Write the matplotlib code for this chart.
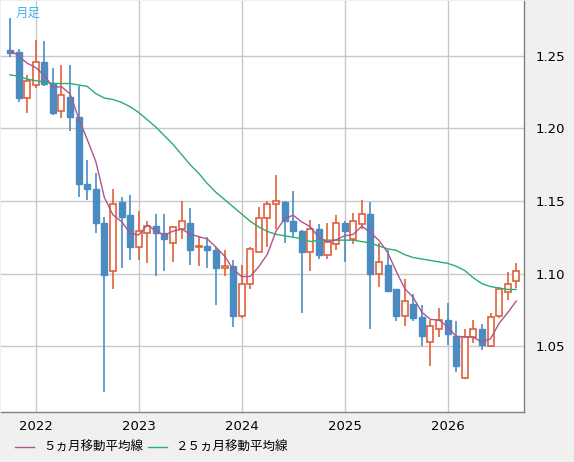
import matplotlib
matplotlib.use("Agg")
import matplotlib.pyplot as plt
from matplotlib.patches import Rectangle
import numpy as np

opens  = [1.254,1.253,1.221,1.230,1.246,1.231,1.212,1.222,1.208,1.162,1.158,1.135,1.102,1.149,1.140,1.118,1.128,1.133,1.128,1.121,
          1.131,1.135,1.118,1.119,1.116,1.104,1.105,1.071,1.093,1.115,1.138,1.148,1.149,1.136,1.129,1.115,1.131,1.113,1.120,1.135,
          1.124,1.134,1.141,1.100,1.106,1.089,1.071,1.079,1.070,1.053,1.062,1.068,1.057,1.028,1.056,1.062,1.050,1.071,1.087,1.095]
highs  = [1.276,1.255,1.237,1.261,1.260,1.242,1.244,1.244,1.229,1.178,1.169,1.139,1.158,1.153,1.154,1.143,1.136,1.141,1.141,1.133,
          1.150,1.145,1.125,1.125,1.118,1.116,1.109,1.106,1.118,1.146,1.150,1.168,1.150,1.157,1.130,1.137,1.134,1.135,1.140,1.136,
          1.142,1.151,1.149,1.121,1.116,1.089,1.096,1.086,1.078,1.068,1.076,1.080,1.067,1.062,1.068,1.065,1.073,1.091,1.101,1.107]
lows   = [1.249,1.218,1.211,1.228,1.229,1.209,1.207,1.198,1.153,1.151,1.128,1.018,1.089,1.104,1.109,1.109,1.107,1.098,1.102,1.108,
          1.124,1.106,1.105,1.104,1.078,1.098,1.063,1.069,1.089,1.115,1.118,1.131,1.121,1.125,1.073,1.102,1.110,1.110,1.116,1.108,
          1.120,1.131,1.062,1.091,1.087,1.067,1.064,1.067,1.050,1.036,1.056,1.051,1.032,1.027,1.052,1.047,1.049,1.069,1.082,1.090]
closes = [1.252,1.221,1.233,1.246,1.231,1.211,1.223,1.208,1.162,1.158,1.135,1.099,1.148,1.139,1.118,1.129,1.133,1.128,1.124,1.132,
          1.136,1.116,1.119,1.116,1.104,1.105,1.071,1.093,1.117,1.138,1.148,1.150,1.136,1.129,1.115,1.131,1.113,1.122,1.135,1.129,
          1.136,1.141,1.100,1.108,1.088,1.071,1.081,1.069,1.057,1.064,1.068,1.058,1.036,1.056,1.062,1.051,1.070,1.089,1.093,1.102]
ma5_head = [1.254, 1.250, 1.245, 1.242]
ma25 = [1.237,1.236,1.234,1.233,1.232,1.231,1.231,1.231,1.230,1.229,1.224,1.221,1.220,1.218,1.215,1.211,1.206,1.201,1.195,1.189,
        1.182,1.175,1.169,1.162,1.156,1.151,1.146,1.141,1.136,1.132,1.129,1.127,1.126,1.125,1.124,1.122,1.123,1.123,1.123,1.123,
        1.123,1.122,1.121,1.119,1.117,1.116,1.113,1.111,1.110,1.109,1.108,1.107,1.105,1.102,1.097,1.093,1.091,1.090,1.089,1.089]
year_labels = ["2022", "2023", "2024", "2025", "2026"]
year_idx = [3, 15, 27, 39, 51]
y_ticks = [1.05, 1.10, 1.15, 1.20, 1.25]

n = len(closes)
c = np.array(closes)
ma5 = list(ma5_head) + [c[i-4:i+1].mean() for i in range(4, n)]

UP = "#e0603c"; DOWN = "#4a8cc2"
fig = plt.figure(figsize=(5.74, 4.62), dpi=100, facecolor="#f0f0f0")
ax = fig.add_axes([1/574, 1 - 412/462, 523/574, 411/462])
ax.set_facecolor("white")
ax.set_xlim(-1.05, 59.9)
ax.set_ylim(1.0045, 1.2879)
for v in y_ticks:
    ax.axhline(v, color="#c8c8c8", lw=1, zorder=0)
for xi in year_idx:
    ax.axvline(xi, color="#c8c8c8", lw=1, zorder=0)

w = 0.7
for i in range(n):
    o, h, l, cl = opens[i], highs[i], lows[i], closes[i]
    up = cl >= o
    col = UP if up else DOWN
    ax.plot([i, i], [l, min(o, cl)], color=col, lw=1.2, zorder=2, solid_capstyle="butt")
    ax.plot([i, i], [max(o, cl), h], color=col, lw=1.2, zorder=2, solid_capstyle="butt")
    bh = max(abs(cl - o), 0.0008)
    if up:
        ax.add_patch(Rectangle((i - w/2, o), w, bh, facecolor="white", edgecolor=col, lw=1.2, zorder=3))
    else:
        ax.add_patch(Rectangle((i - w/2, cl), w, bh, facecolor=col, edgecolor=col, lw=1.0, zorder=3))

x = np.arange(n)
ax.plot(x, ma25, color="#2aae6e", lw=1, zorder=4)
ax.plot(x, ma5, color="#b0568a", lw=1, zorder=4)

ax.set_xticks(year_idx)
ax.set_xticklabels(year_labels, fontsize=9.5)
ax.yaxis.tick_right()
ax.set_yticks(y_ticks)
ax.set_yticklabels([f"{v:.2f}" for v in y_ticks], fontsize=9.5)
ax.tick_params(length=0, pad=8)
ax.tick_params(axis="x", pad=6)
for s in ax.spines.values():
    s.set_color("#808080"); s.set_linewidth(1)
ax.spines["top"].set_visible(False)
ax.spines["left"].set_visible(False)

ax.text(0.028, 0.985, "月足", transform=ax.transAxes, color="#40b4e8", fontsize=9,
        family=["Noto Sans CJK JP", "DejaVu Sans"], va="top", ha="left")

jp = ["Noto Sans CJK JP", "DejaVu Sans"]
fig.lines.append(plt.Line2D([15/574, 34/574], [1 - 447/462]*2, color="#b0568a", lw=1, transform=fig.transFigure))
fig.text(43/574, 1 - 447/462, "５ヵ月移動平均線", family=jp, fontsize=9, va="center")
fig.lines.append(plt.Line2D([148/574, 167/574], [1 - 447/462]*2, color="#2aae6e", lw=1, transform=fig.transFigure))
fig.text(175/574, 1 - 447/462, "２５ヵ月移動平均線", family=jp, fontsize=9, va="center")

fig.savefig("out.png", dpi=100, facecolor=fig.get_facecolor())
